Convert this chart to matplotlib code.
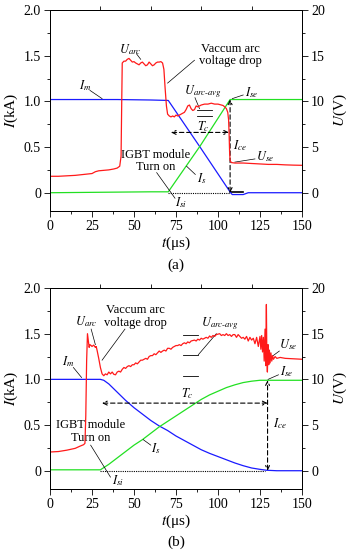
import matplotlib
matplotlib.use('Agg')
import matplotlib.pyplot as plt
from matplotlib.ticker import MultipleLocator

plt.rcParams['font.family'] = ['Liberation Serif', 'DejaVu Serif']
plt.rcParams['mathtext.fontset'] = 'stix'

# ---------------- Panel (a) data ----------------
a_im_t = [0, 20, 40, 60, 70.4, 89.3, 107.5, 108.5, 115, 118, 150]
a_im_i = [1.02, 1.02, 1.02, 1.015, 1.01, 0.50, 0.0, -0.02, -0.02, 0.0, 0.0]

a_is_t = [0, 30, 60, 70.4, 89.3, 107.2, 110, 130, 150]
a_is_i = [0.0, 0.005, 0.01, 0.01, 0.51, 1.02, 1.02, 1.02, 1.02]

a_u_t = [0, 5, 10, 15, 20, 25, 27, 29, 32, 35, 38, 40, 41.5, 42.3, 42.7, 43.0,
         44, 45, 46, 47, 48, 49, 50, 51, 52, 53, 54, 55, 56, 57, 58, 59, 60,
         61, 62, 63, 64, 65, 66, 67, 67.8, 68.5, 69.3, 70, 71, 72, 73, 74, 75,
         76, 77, 78, 79, 80, 81, 82, 83, 84, 85, 86, 87, 88, 89, 90, 92, 94,
         96, 98, 100, 102, 103, 104, 105, 105.8, 106.3, 106.6, 106.9, 107.2,
         107.6, 108, 110, 115, 120, 125, 130, 135, 140, 145, 150]
a_u_v = [1.8, 1.8, 1.85, 1.9, 2.0, 2.1, 2.3, 2.4, 2.45, 2.5, 2.6, 2.7, 2.9, 4.0, 10.0, 14.2,
         14.4, 14.4, 14.6, 14.7, 14.5, 14.3, 14.35, 14.2, 14.1, 14.0, 14.2, 14.3, 14.1, 13.9, 14.0, 14.3, 14.1,
         13.9, 14.0, 14.2, 14.3, 14.3, 14.35, 14.2, 13.5, 11.5, 9.5, 8.6, 8.4, 8.3, 8.4, 8.3, 8.5,
         8.4, 8.5, 8.6, 8.7, 8.8, 9.1, 9.5, 9.6, 9.2, 9.0, 9.1, 9.5, 9.4, 9.5, 9.6, 9.7, 9.7,
         9.8, 9.7, 9.7, 9.6, 9.55, 9.4, 9.2, 8.8, 8.0, 6.5, 4.5, 3.5,
         3.4, 3.3, 3.25, 3.25, 3.2, 3.15, 3.1, 3.1, 3.05, 3.02, 3.0]

# ---------------- Panel (b) data ----------------
b_im_t = [0, 30, 32, 35, 40, 45, 50, 55, 60, 65, 70, 75, 80, 85, 90, 95, 100,
          105, 110, 115, 120, 125, 129, 135, 150]
b_im_i = [1.0, 1.0, 0.99, 0.95, 0.86, 0.77, 0.69, 0.62, 0.55, 0.49, 0.44, 0.38,
          0.33, 0.28, 0.23, 0.19, 0.155, 0.12, 0.085, 0.055, 0.03, 0.015, 0.005, 0.0, 0.0]

b_is_t = [0, 15, 30, 35, 40, 45, 50, 55, 60, 65, 70, 75, 80, 85, 90, 95, 100,
          105, 110, 115, 120, 125, 129, 140, 150]
b_is_i = [0.01, 0.01, 0.01, 0.07, 0.14, 0.21, 0.28, 0.34, 0.41, 0.48, 0.54, 0.60,
          0.66, 0.72, 0.78, 0.83, 0.87, 0.91, 0.94, 0.965, 0.98, 0.99, 0.99, 0.99, 0.99]

b_u_t = [0, 5, 10, 15, 18, 20, 20.8, 21.3, 21.8, 22.3, 22.8, 23.3, 23.8, 24.5, 25, 26,
         27, 27.5, 28, 29, 30, 31, 32, 33, 34, 35, 36, 37, 38, 39, 40, 41, 42, 43,
         44, 45, 46, 47, 48, 49, 50, 51, 52, 53, 54, 55, 56, 57, 58, 59, 60, 61,
         62, 63, 64, 65, 66, 67, 68, 69, 70, 71, 72, 73, 74, 75, 76, 77, 78, 79,
         80, 81, 82, 83, 84, 85, 86, 87, 88, 89, 90, 91, 92, 93, 94, 95, 96, 97,
         98, 99, 100, 101, 102, 103, 104, 105, 106, 107, 108, 109, 110, 111, 112,
         113, 114, 115, 116, 117, 118, 119, 120, 121, 122, 123, 124, 125, 125.5,
         126, 126.5, 127, 127.5, 128, 128.4, 128.8, 129.1, 129.4, 129.8, 130.2,
         130.6, 131, 131.5, 132, 132.5, 133, 134, 135, 137, 140, 145, 150]
b_u_v = [2.05, 2.1, 2.25, 2.45, 2.7, 2.85, 3.0, 6.0, 12.0, 15.0, 14.2, 13.5, 13.8, 13.7, 13.6, 13.75,
         13.5, 13.6, 13.2, 12.3, 11.3, 10.6, 10.4, 10.6, 10.5, 10.8, 10.6, 10.8, 10.55, 10.5, 10.8, 10.9, 10.8, 11.1,
         11.3, 11.2, 11.4, 11.5, 11.4, 11.6, 11.6, 11.8, 11.7, 11.9, 12.1, 12.1, 12.2, 12.3, 12.2, 12.5, 12.6, 12.6,
         12.8, 12.7, 12.9, 13.1, 12.95, 13.1, 13.2, 13.1, 13.4, 13.4, 13.3, 13.5, 13.6, 13.7, 13.7, 13.8, 13.7, 13.9,
         14.0, 13.9, 14.1, 14.0, 14.2, 14.25, 14.3, 14.2, 14.4, 14.3, 14.5, 14.4, 14.5, 14.6, 14.5, 14.75, 14.6, 14.8,
         14.7, 14.9, 14.95, 15.0, 14.8, 14.9, 14.8, 15.0, 14.8, 14.9, 14.7, 14.9, 14.9, 14.6, 14.9,
         14.7, 14.5, 14.6, 14.4, 14.7, 14.2, 14.6, 14.3, 14.5, 13.9, 14.6, 13.6, 14.7, 13.3,
         14.8, 13.0, 14.6, 12.0, 15.5, 11.5, 18.2, 12.0, 10.8, 13.8, 11.6,
         13.2, 11.8, 12.9, 12.0, 12.6, 12.2, 12.5, 12.3, 12.4, 12.3, 12.25, 12.2]

# average-voltage marker levels (V)
a_avg_levels = [9.05, 8.4]
b_avg_levels = [14.9, 12.7, 10.4]

x_ticks = [0, 25, 50, 75, 100, 125, 150]
top_ticks = [30, 60, 90, 120]
i_ticks = [0, 0.5, 1.0, 1.5, 2.0]
i_labels = ['0', '0.5', '1.0', '1.5', '2.0']
u_ticks = [0, 5, 10, 15, 20]

RED = '#ff1a1a'
BLUE = '#1a1aff'
GREEN = '#22e022'
FS = 10
LFS = 11
AFS = 9

fig = plt.figure(figsize=(3.5, 5.5), dpi=100)
W, H = 350.0, 550.0


def make_axes(top_px):
    ax = fig.add_axes([50 / W, 1 - (top_px + 201) / H, 252 / W, 201 / H])
    ax.set_xlim(0, 150)
    ax.set_ylim(-0.2, 2.0)
    ax.set_xticks(x_ticks)
    ax.xaxis.set_minor_locator(MultipleLocator(12.5))
    ax.set_yticks(i_ticks)
    ax.set_yticklabels(i_labels)
    ax.yaxis.set_minor_locator(MultipleLocator(0.25))
    ax.tick_params(which='both', direction='out', labelsize=FS, width=0.6, pad=2.5)
    ax.tick_params(which='major', length=4)
    ax.tick_params(which='minor', length=2)
    for s in ax.spines.values():
        s.set_linewidth(0.7)
    ax2 = ax.twinx()
    ax2.set_ylim(-2, 20)
    ax2.set_yticks(u_ticks)
    ax2.yaxis.set_minor_locator(MultipleLocator(2.5))
    ax2.tick_params(which='both', direction='out', labelsize=FS, width=0.6, pad=2.5)
    ax2.tick_params(which='major', length=4)
    ax2.tick_params(which='minor', length=2)
    for s in ax2.spines.values():
        s.set_linewidth(0.7)
    sec = ax.secondary_xaxis('top')
    sec.set_xticks(top_ticks)
    sec.set_xticklabels([])
    sec.tick_params(direction='out', length=3, width=0.6)
    sec.spines['top'].set_linewidth(0.7)
    yc = 1 - (top_px + 100) / H
    fig.text(11 / W, yc, '$I$(kA)', fontsize=LFS, rotation=90, ha='center', va='center')
    fig.text(340 / W, yc, '$U$(V)', fontsize=LFS, rotation=90, ha='center', va='center')
    fig.text(176 / W, 1 - (top_px + 233) / H, '$t$(μs)', fontsize=LFS, ha='center', va='center')
    return ax, ax2


def leader(ax, p1, p2):
    ax.plot([p1[0], p2[0]], [p1[1], p2[1]], color='k', lw=0.5)


def dashed_arrow(ax, p1, p2):
    ax.annotate('', xy=p2, xytext=p1,
                arrowprops=dict(arrowstyle='<->', linestyle=(0, (4, 2.5)), lw=0.8,
                                color='k', shrinkA=0, shrinkB=0,
                                mutation_scale=7))

# ================= Panel (a) =================
ax, ax2 = make_axes(10)
ax.plot([70, 107], [0, 0], color='k', lw=0.8, ls=(0, (1, 1)))
ax.plot([107, 115], [0.01, 0.01], color='k', lw=1.2)
ax.plot(a_im_t, a_im_i, color=BLUE, lw=0.9)
ax.plot(a_is_t, a_is_i, color=GREEN, lw=0.9)
ax2.plot(a_u_t, a_u_v, color=RED, lw=0.9)
for lv in a_avg_levels:
    ax2.plot([87.5, 96.5], [lv, lv], color='k', lw=0.6)
dashed_arrow(ax, (72, 0.66), (106.5, 0.66))
dashed_arrow(ax, (107.2, 0.0), (107.2, 1.02))

ax.text(47.5, 1.57, '$U_{arc}$', fontsize=AFS, ha='center', va='center')
leader(ax, (51.5, 1.52), (54, 1.46))
ax.text(107.5, 1.51, 'Vaccum arc\nvoltage drop', fontsize=AFS, ha='center', va='center',
        linespacing=1.05)
leader(ax, (86, 1.45), (70, 1.2))
ax.text(20.8, 1.17, '$I_{m}$', fontsize=AFS, ha='center', va='center')
leader(ax, (23.8, 1.12), (31, 1.03))
ax.text(91, 1.11, '$U_{arc\u2010avg}$', fontsize=AFS, ha='center', va='center')
leader(ax, (86.3, 1.04), (89, 0.92))
ax.text(120, 1.10, '$I_{se}$', fontsize=AFS, ha='center', va='center')
leader(ax, (115, 1.07), (108.5, 1.03))
ax.text(91, 0.72, '$T_{c}$', fontsize=AFS, ha='center', va='center')
ax.text(113, 0.52, '$I_{ce}$', fontsize=AFS, ha='center', va='center')
ax.text(128, 0.39, '$U_{se}$', fontsize=AFS, ha='center', va='center')
leader(ax, (122, 0.37), (110, 0.335))
ax.text(63, 0.35, 'IGBT module\nTurn on', fontsize=AFS, ha='center', va='center',
        linespacing=1.05)
leader(ax, (63.5, 0.22), (74.4, -0.06))
ax.text(78, -0.11, '$I_{si}$', fontsize=AFS, ha='center', va='center')
ax.text(90.5, 0.15, '$I_{s}$', fontsize=AFS, ha='center', va='center')
leader(ax, (81.3, 0.29), (86.5, 0.2))
fig.text(176 / W, 1 - 265 / H, '(a)', fontsize=LFS, ha='center', va='center')

# ================= Panel (b) =================
bx, bx2 = make_axes(288)
bx.plot([30, 128], [0, 0], color='k', lw=0.8, ls=(0, (1, 1)))
bx.plot(b_im_t, b_im_i, color=BLUE, lw=0.9)
bx.plot(b_is_t, b_is_i, color=GREEN, lw=0.9)
bx2.plot(b_u_t, b_u_v, color=RED, lw=0.9)
for lv in b_avg_levels:
    bx2.plot([79, 88.3], [lv, lv], color='k', lw=0.6)
dashed_arrow(bx, (31, 0.74), (129.5, 0.74))
dashed_arrow(bx, (129.5, 0.0), (129.5, 0.99))

bx.text(21.5, 1.63, '$U_{arc}$', fontsize=AFS, ha='center', va='center')
leader(bx, (24.5, 1.55), (27, 1.38))
bx.text(51, 1.69, 'Vaccum arc\nvoltage drop', fontsize=AFS, ha='center', va='center',
        linespacing=1.05)
leader(bx, (44.6, 1.55), (31, 1.21))
bx.text(10.7, 1.19, '$I_{m}$', fontsize=AFS, ha='center', va='center')
leader(bx, (13.9, 1.13), (18.8, 1.02))
bx.text(101, 1.61, '$U_{arc\u2010avg}$', fontsize=AFS, ha='center', va='center')
leader(bx, (88.3, 1.27), (99, 1.50))
bx.text(141.5, 1.38, '$U_{se}$', fontsize=AFS, ha='center', va='center')
leader(bx, (136.5, 1.31), (131, 1.235))
bx.text(141, 1.09, '$I_{se}$', fontsize=AFS, ha='center', va='center')
leader(bx, (136, 1.05), (129.8, 1.0))
bx.text(82, 0.84, '$T_{c}$', fontsize=AFS, ha='center', va='center')
bx.text(137, 0.52, '$I_{ce}$', fontsize=AFS, ha='center', va='center')
bx.text(24, 0.43, 'IGBT module\nTurn on', fontsize=AFS, ha='center', va='center',
        linespacing=1.05)
leader(bx, (24.2, 0.28), (36, -0.07))
bx.text(40.5, -0.11, '$I_{si}$', fontsize=AFS, ha='center', va='center')
bx.text(63, 0.24, '$I_{s}$', fontsize=AFS, ha='center', va='center')
leader(bx, (55.5, 0.34), (60, 0.28))
fig.text(176 / W, 1 - 542 / H, '(b)', fontsize=LFS, ha='center', va='center')

fig.savefig('out.png', dpi=100)
